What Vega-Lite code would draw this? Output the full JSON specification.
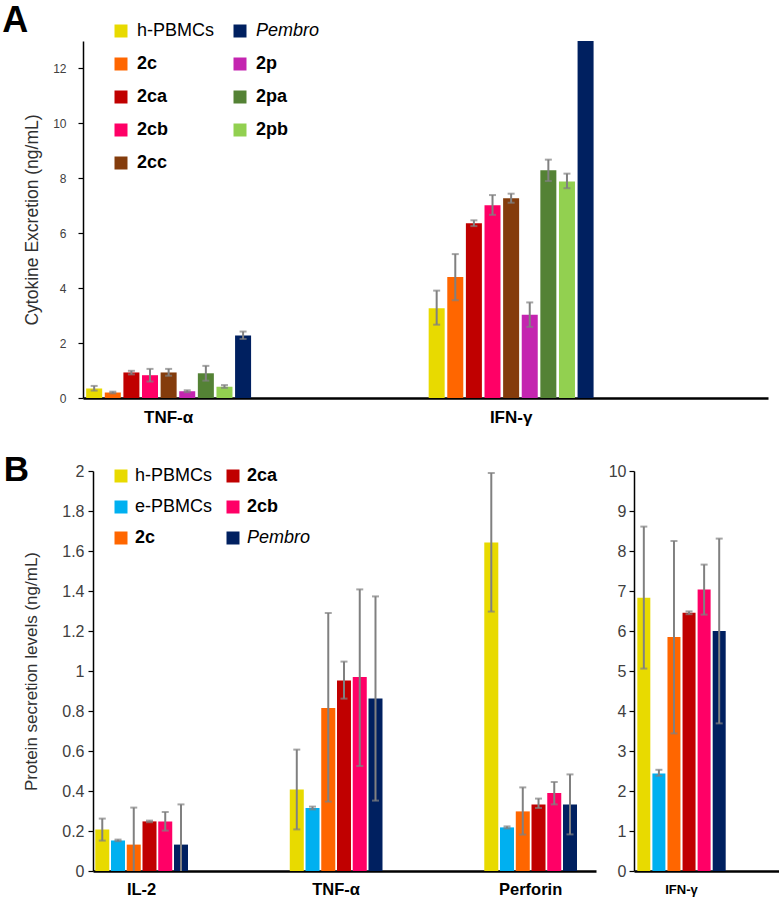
{
  "$schema": "https://vega.github.io/schema/vega-lite/v6.json",
  "padding": {"left": 2, "top": 3, "right": 0, "bottom": 0},
  "config": {
    "view": {"stroke": null},
    "font": "Liberation Sans",
    "axis": {"grid": false, "domain": true, "domainColor": "black", "domainOpacity": 1, "tickColor": "black", "tickOpacity": 1, "labelColor": "#404040", "titleColor": "#303030", "titleFontWeight": "normal", "labelFont": "Liberation Sans", "titleFont": "Liberation Sans", "labelOverlap": false},
    "legend": {"symbolType": "square", "symbolSize": 169, "symbolStrokeWidth": 0, "symbolOpacity": 1, "labelFont": "Liberation Sans", "labelColor": "black", "title": null}
  },
  "datasets": {
    "a": [
      {"cytokine": "TNF-α", "group": "h-PBMCs", "value": 0.35, "lo": 0.27, "hi": 0.44},
      {"cytokine": "TNF-α", "group": "2c", "value": 0.20, "lo": 0.17, "hi": 0.23},
      {"cytokine": "TNF-α", "group": "2ca", "value": 0.93, "lo": 0.86, "hi": 0.99},
      {"cytokine": "TNF-α", "group": "2cb", "value": 0.83, "lo": 0.60, "hi": 1.06},
      {"cytokine": "TNF-α", "group": "2cc", "value": 0.93, "lo": 0.81, "hi": 1.06},
      {"cytokine": "TNF-α", "group": "2p", "value": 0.25, "lo": 0.21, "hi": 0.28},
      {"cytokine": "TNF-α", "group": "2pa", "value": 0.90, "lo": 0.63, "hi": 1.17},
      {"cytokine": "TNF-α", "group": "2pb", "value": 0.41, "lo": 0.37, "hi": 0.47},
      {"cytokine": "TNF-α", "group": "Pembro", "value": 2.28, "lo": 2.15, "hi": 2.42},
      {"cytokine": "IFN-γ", "group": "h-PBMCs", "value": 3.27, "lo": 2.67, "hi": 3.91},
      {"cytokine": "IFN-γ", "group": "2c", "value": 4.41, "lo": 3.56, "hi": 5.24},
      {"cytokine": "IFN-γ", "group": "2ca", "value": 6.36, "lo": 6.26, "hi": 6.47},
      {"cytokine": "IFN-γ", "group": "2cb", "value": 7.02, "lo": 6.67, "hi": 7.39},
      {"cytokine": "IFN-γ", "group": "2cc", "value": 7.27, "lo": 7.11, "hi": 7.44},
      {"cytokine": "IFN-γ", "group": "2p", "value": 3.03, "lo": 2.59, "hi": 3.48},
      {"cytokine": "IFN-γ", "group": "2pa", "value": 8.29, "lo": 7.90, "hi": 8.68},
      {"cytokine": "IFN-γ", "group": "2pb", "value": 7.88, "lo": 7.64, "hi": 8.17},
      {"cytokine": "IFN-γ", "group": "Pembro", "value": 13, "lo": null, "hi": null}
    ],
    "b": [
      {"cytokine": "IL-2", "group": "h-PBMCs", "value": 0.208, "lo": 0.152, "hi": 0.262},
      {"cytokine": "IL-2", "group": "e-PBMCs", "value": 0.153, "lo": 0.149, "hi": 0.157},
      {"cytokine": "IL-2", "group": "2c", "value": 0.132, "lo": -0.05, "hi": 0.317},
      {"cytokine": "IL-2", "group": "2ca", "value": 0.248, "lo": 0.244, "hi": 0.252},
      {"cytokine": "IL-2", "group": "2cb", "value": 0.248, "lo": 0.202, "hi": 0.295},
      {"cytokine": "IL-2", "group": "Pembro", "value": 0.132, "lo": -0.07, "hi": 0.333},
      {"cytokine": "TNF-α", "group": "h-PBMCs", "value": 0.407, "lo": 0.208, "hi": 0.607},
      {"cytokine": "TNF-α", "group": "e-PBMCs", "value": 0.315, "lo": 0.308, "hi": 0.322},
      {"cytokine": "TNF-α", "group": "2c", "value": 0.815, "lo": 0.347, "hi": 1.29},
      {"cytokine": "TNF-α", "group": "2ca", "value": 0.953, "lo": 0.862, "hi": 1.047},
      {"cytokine": "TNF-α", "group": "2cb", "value": 0.97, "lo": 0.525, "hi": 1.408},
      {"cytokine": "TNF-α", "group": "Pembro", "value": 0.862, "lo": 0.352, "hi": 1.373},
      {"cytokine": "Perforin", "group": "h-PBMCs", "value": 1.643, "lo": 1.297, "hi": 1.99},
      {"cytokine": "Perforin", "group": "e-PBMCs", "value": 0.218, "lo": 0.213, "hi": 0.223},
      {"cytokine": "Perforin", "group": "2c", "value": 0.298, "lo": 0.182, "hi": 0.418},
      {"cytokine": "Perforin", "group": "2ca", "value": 0.333, "lo": 0.315, "hi": 0.362},
      {"cytokine": "Perforin", "group": "2cb", "value": 0.39, "lo": 0.333, "hi": 0.445},
      {"cytokine": "Perforin", "group": "Pembro", "value": 0.333, "lo": 0.183, "hi": 0.483}
    ],
    "c": [
      {"cytokine": "IFN-γ", "group": "h-PBMCs", "value": 6.83, "lo": 5.06, "hi": 8.61},
      {"cytokine": "IFN-γ", "group": "e-PBMCs", "value": 2.435, "lo": 2.38, "hi": 2.53},
      {"cytokine": "IFN-γ", "group": "2c", "value": 5.85, "lo": 3.44, "hi": 8.25},
      {"cytokine": "IFN-γ", "group": "2ca", "value": 6.455, "lo": 6.42, "hi": 6.49},
      {"cytokine": "IFN-γ", "group": "2cb", "value": 7.04, "lo": 6.41, "hi": 7.66},
      {"cytokine": "IFN-γ", "group": "Pembro", "value": 6.0, "lo": 3.69, "hi": 8.31}
    ]
  },
  "resolve": {"scale": {"color": "independent", "x": "independent", "y": "independent", "xOffset": "independent"}},
  "spacing": 28,
  "vconcat": [
    {
      "title": {"text": "A", "anchor": "start", "frame": "bounds", "fontSize": 36, "fontWeight": "bold", "color": "black", "font": "Liberation Sans", "dx": -21, "offset": -18},
      "width": 685,
      "height": 357,
      "data": {"name": "a"},
      "encoding": {
        "x": {"field": "cytokine", "type": "nominal", "title": null,
          "scale": {"domain": ["TNF-α", "gap1", "IFN-γ", "gap2"], "paddingInner": 0, "paddingOuter": 0},
          "axis": {"labelExpr": "indexof(['gap1','gap2'], datum.value) >= 0 ? '' : datum.value", "labelAngle": 0, "domain": true, "domainColor": "black", "ticks": false, "domainWidth": 2.5, "labelFontSize": 17, "labelFontWeight": "bold", "labelColor": "black", "labelPadding": 11}},
        "xOffset": {"field": "group", "type": "nominal",
          "scale": {"domain": ["h-PBMCs", "2c", "2ca", "2cb", "2cc", "2p", "2pa", "2pb", "Pembro"], "paddingInner": 0.14, "paddingOuter": 0.17}}
      },
      "layer": [
        {
          "mark": {"type": "bar", "clip": true},
          "encoding": {
            "y": {"field": "value", "type": "quantitative", "title": "Cytokine Excretion (ng/mL)",
              "scale": {"domain": [0, 13], "nice": false},
              "axis": {"values": [0, 2, 4, 6, 8, 10, 12], "labelOverlap": false, "domain": true, "domainColor": "black", "ticks": true, "domainWidth": 1.5, "tickSize": 5, "tickWidth": 1.2, "labelFontSize": 12, "labelPadding": 12, "titleFontSize": 17.5, "titlePadding": 11.5}},
            "color": {"field": "group", "type": "nominal",
              "scale": {"domain": ["h-PBMCs", "2c", "2ca", "2cb", "2cc", "Pembro", "2p", "2pa", "2pb"],
                "range": ["#E8DA00", "#FF6600", "#C00000", "#FF0066", "#843C0C", "#002060", "#C425B0", "#548235", "#92D050"]},
              "legend": {"orient": "none", "legendX": 29, "legendY": -19, "columns": 2, "labelFontSize": 18, "labelOffset": 7, "rowPadding": 15, "columnPadding": 16,
                "encode": {"labels": {"update": {
                  "fontWeight": {"signal": "indexof(['h-PBMCs','e-PBMCs','Pembro'], datum.value) >= 0 ? 'normal' : 'bold'"},
                  "fontStyle": {"signal": "datum.value == 'Pembro' ? 'italic' : 'normal'"}}}}}}
          }
        },
        {
          "mark": {"type": "rule", "color": "#808080", "strokeWidth": 2, "clip": true},
          "encoding": {"y": {"field": "lo", "type": "quantitative", "title": "Cytokine Excretion (ng/mL)",
              "axis": {"values": [0, 2, 4, 6, 8, 10, 12], "labelOverlap": false, "domain": true, "domainColor": "black", "ticks": true, "domainWidth": 1.5, "tickSize": 5, "tickWidth": 1.2, "labelFontSize": 12, "labelPadding": 12, "titleFontSize": 17.5, "titlePadding": 11.5}},
            "y2": {"field": "hi"}}
        },
        {
          "mark": {"type": "tick", "color": "#808080", "thickness": 2, "size": 7, "orient": "horizontal", "clip": true},
          "encoding": {"y": {"field": "lo", "type": "quantitative", "title": "Cytokine Excretion (ng/mL)",
              "axis": {"values": [0, 2, 4, 6, 8, 10, 12], "labelOverlap": false, "domain": true, "domainColor": "black", "ticks": true, "domainWidth": 1.5, "tickSize": 5, "tickWidth": 1.2, "labelFontSize": 12, "labelPadding": 12, "titleFontSize": 17.5, "titlePadding": 11.5}}}
        },
        {
          "mark": {"type": "tick", "color": "#808080", "thickness": 2, "size": 7, "orient": "horizontal", "clip": true},
          "encoding": {"y": {"field": "hi", "type": "quantitative", "title": "Cytokine Excretion (ng/mL)",
              "axis": {"values": [0, 2, 4, 6, 8, 10, 12], "labelOverlap": false, "domain": true, "domainColor": "black", "ticks": true, "domainWidth": 1.5, "tickSize": 5, "tickWidth": 1.2, "labelFontSize": 12, "labelPadding": 12, "titleFontSize": 17.5, "titlePadding": 11.5}}}
        }
      ]
    },
    {
      "title": {"text": "B", "anchor": "start", "frame": "bounds", "fontSize": 35, "fontWeight": "bold", "color": "black", "font": "Liberation Sans", "dx": -19, "offset": -25},
      "resolve": {"scale": {"color": "independent", "x": "independent", "y": "independent", "xOffset": "independent"}},
      "spacing": 12,
      "hconcat": [
        {
          "width": 513,
          "height": 400,
          "data": {"name": "b"},
          "encoding": {
            "x": {"field": "cytokine", "type": "nominal", "title": null,
              "scale": {"domain": ["IL-2", "gap1", "TNF-α", "gap2", "Perforin"], "range": [10, 513], "paddingInner": 0, "paddingOuter": 0.086, "align": 0},
              "axis": {"labelExpr": "indexof(['gap1','gap2'], datum.value) >= 0 ? '' : datum.value", "labelAngle": 0, "domain": true, "domainColor": "black", "ticks": false, "domainWidth": 2.5, "labelFontSize": 16.5, "labelFontWeight": "bold", "labelColor": "black", "labelPadding": 10}},
            "xOffset": {"field": "group", "type": "nominal",
              "scale": {"domain": ["h-PBMCs", "e-PBMCs", "2c", "2ca", "2cb", "Pembro"], "paddingInner": 0.11, "paddingOuter": 0.144}}
          },
          "layer": [
            {
              "mark": {"type": "bar", "clip": true},
              "encoding": {
                "y": {"field": "value", "type": "quantitative", "title": "Protein secretion levels (ng/mL)",
                  "scale": {"domain": [0, 2], "nice": false},
                  "axis": {"values": [0, 0.2, 0.4, 0.6, 0.8, 1, 1.2, 1.4, 1.6, 1.8, 2], "labelOverlap": false, "format": "~g", "offset": -10, "domain": true, "domainColor": "black", "ticks": true, "domainWidth": 1.5, "tickSize": 5, "tickWidth": 1.2, "labelFontSize": 16, "labelPadding": 4, "titleFontSize": 17, "titlePadding": 21}},
                "color": {"field": "group", "type": "nominal",
                  "scale": {"domain": ["h-PBMCs", "e-PBMCs", "2c", "2ca", "2cb", "Pembro"],
                    "range": ["#E8DA00", "#00B0F0", "#FF6600", "#C00000", "#FF0066", "#002060"]},
                  "legend": {"orient": "none", "legendX": 29, "legendY": -4, "columns": 2, "labelFontSize": 18, "labelOffset": 5, "rowPadding": 13, "columnPadding": 11,
                    "encode": {"labels": {"update": {
                      "fontWeight": {"signal": "indexof(['h-PBMCs','e-PBMCs','Pembro'], datum.value) >= 0 ? 'normal' : 'bold'"},
                      "fontStyle": {"signal": "datum.value == 'Pembro' ? 'italic' : 'normal'"}}}}}}
              }
            },
            {
              "mark": {"type": "rule", "color": "#808080", "strokeWidth": 2, "clip": true},
              "encoding": {"y": {"field": "lo", "type": "quantitative", "title": "Protein secretion levels (ng/mL)",
                  "axis": {"values": [0, 0.2, 0.4, 0.6, 0.8, 1, 1.2, 1.4, 1.6, 1.8, 2], "labelOverlap": false, "format": "~g", "offset": -10, "domain": true, "domainColor": "black", "ticks": true, "domainWidth": 1.5, "tickSize": 5, "tickWidth": 1.2, "labelFontSize": 16, "labelPadding": 4, "titleFontSize": 17, "titlePadding": 21}},
                "y2": {"field": "hi"}}
            },
            {
              "mark": {"type": "tick", "color": "#808080", "thickness": 2, "size": 7, "orient": "horizontal", "clip": true},
              "encoding": {"y": {"field": "lo", "type": "quantitative", "title": "Protein secretion levels (ng/mL)",
                  "axis": {"values": [0, 0.2, 0.4, 0.6, 0.8, 1, 1.2, 1.4, 1.6, 1.8, 2], "labelOverlap": false, "format": "~g", "offset": -10, "domain": true, "domainColor": "black", "ticks": true, "domainWidth": 1.5, "tickSize": 5, "tickWidth": 1.2, "labelFontSize": 16, "labelPadding": 4, "titleFontSize": 17, "titlePadding": 21}}}
            },
            {
              "mark": {"type": "tick", "color": "#808080", "thickness": 2, "size": 7, "orient": "horizontal", "clip": true},
              "encoding": {"y": {"field": "hi", "type": "quantitative", "title": "Protein secretion levels (ng/mL)",
                  "axis": {"values": [0, 0.2, 0.4, 0.6, 0.8, 1, 1.2, 1.4, 1.6, 1.8, 2], "labelOverlap": false, "format": "~g", "offset": -10, "domain": true, "domainColor": "black", "ticks": true, "domainWidth": 1.5, "tickSize": 5, "tickWidth": 1.2, "labelFontSize": 16, "labelPadding": 4, "titleFontSize": 17, "titlePadding": 21}}}
            }
          ]
        },
        {
          "width": 145,
          "height": 400,
          "data": {"name": "c"},
          "encoding": {
            "x": {"field": "cytokine", "type": "nominal", "title": null,
              "scale": {"domain": ["IFN-γ"], "paddingInner": 0, "paddingOuter": 0.263, "align": 0},
              "axis": {"labelAngle": 0, "domain": true, "domainColor": "black", "ticks": false, "domainWidth": 2.5, "labelFontSize": 13, "labelFontWeight": "bold", "labelColor": "black", "labelPadding": 12}},
            "xOffset": {"field": "group", "type": "nominal",
              "scale": {"domain": ["h-PBMCs", "e-PBMCs", "2c", "2ca", "2cb", "Pembro"], "paddingInner": 0.137, "paddingOuter": 0.22}}
          },
          "layer": [
            {
              "mark": {"type": "bar", "clip": true},
              "encoding": {
                "y": {"field": "value", "type": "quantitative", "title": null,
                  "scale": {"domain": [0, 10], "nice": false},
                  "axis": {"values": [0, 1, 2, 3, 4, 5, 6, 7, 8, 9, 10], "labelOverlap": false, "domain": true, "domainColor": "black", "ticks": true, "domainWidth": 1.5, "tickSize": 5, "tickWidth": 1.2, "labelFontSize": 16, "labelPadding": 3}},
                "color": {"field": "group", "type": "nominal",
                  "scale": {"domain": ["h-PBMCs", "e-PBMCs", "2c", "2ca", "2cb", "Pembro"],
                    "range": ["#E8DA00", "#00B0F0", "#FF6600", "#C00000", "#FF0066", "#002060"]},
                  "legend": null}
              }
            },
            {
              "mark": {"type": "rule", "color": "#808080", "strokeWidth": 2, "clip": true},
              "encoding": {"y": {"field": "lo", "type": "quantitative", "title": null,
                  "axis": {"values": [0, 1, 2, 3, 4, 5, 6, 7, 8, 9, 10], "labelOverlap": false, "domain": true, "domainColor": "black", "ticks": true, "domainWidth": 1.5, "tickSize": 5, "tickWidth": 1.2, "labelFontSize": 16, "labelPadding": 3}},
                "y2": {"field": "hi"}}
            },
            {
              "mark": {"type": "tick", "color": "#808080", "thickness": 2, "size": 7, "orient": "horizontal", "clip": true},
              "encoding": {"y": {"field": "lo", "type": "quantitative", "title": null,
                  "axis": {"values": [0, 1, 2, 3, 4, 5, 6, 7, 8, 9, 10], "labelOverlap": false, "domain": true, "domainColor": "black", "ticks": true, "domainWidth": 1.5, "tickSize": 5, "tickWidth": 1.2, "labelFontSize": 16, "labelPadding": 3}}}
            },
            {
              "mark": {"type": "tick", "color": "#808080", "thickness": 2, "size": 7, "orient": "horizontal", "clip": true},
              "encoding": {"y": {"field": "hi", "type": "quantitative", "title": null,
                  "axis": {"values": [0, 1, 2, 3, 4, 5, 6, 7, 8, 9, 10], "labelOverlap": false, "domain": true, "domainColor": "black", "ticks": true, "domainWidth": 1.5, "tickSize": 5, "tickWidth": 1.2, "labelFontSize": 16, "labelPadding": 3}}}
            }
          ]
        }
      ]
    }
  ]
}
